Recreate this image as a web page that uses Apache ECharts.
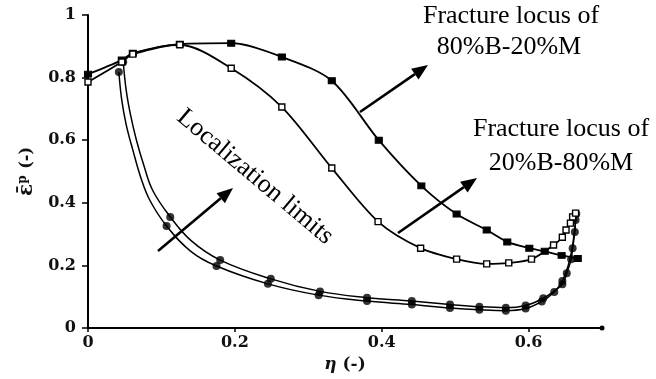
<!DOCTYPE html>
<html>
<head>
<meta charset="utf-8">
<script src="https://cdn.jsdelivr.net/npm/echarts@6/dist/echarts.min.js"></script>
<style>
html,body{margin:0;padding:0;background:#fff;}
#c{width:656px;height:379px;}
</style>
</head>
<body>
<div id="c"></div>
<script>
// ---- data (eta, equivalent plastic strain) ----
const xTicks = [0, 0.2, 0.4, 0.6];
const yTicks = [0, 0.2, 0.4, 0.6, 0.8, 1];

// Fracture locus of 80%B-20%M (filled squares)
const xB80 = [0, 0.046, 0.061, 0.125, 0.195, 0.264, 0.332, 0.396, 0.454, 0.502, 0.543, 0.571, 0.601, 0.622, 0.645, 0.667];
const yB80 = [0.811, 0.856, 0.878, 0.907, 0.910, 0.866, 0.790, 0.600, 0.454, 0.364, 0.313, 0.275, 0.255, 0.245, 0.232, 0.222];

// Fracture locus of 20%B-80%M (hollow squares)
const xB20 = [0, 0.046, 0.061, 0.125, 0.195, 0.264, 0.332, 0.395, 0.453, 0.502, 0.543, 0.573, 0.604, 0.634, 0.646, 0.651, 0.657, 0.660, 0.664];
const yB20 = [0.786, 0.850, 0.875, 0.905, 0.830, 0.706, 0.511, 0.340, 0.255, 0.220, 0.205, 0.208, 0.220, 0.265, 0.290, 0.313, 0.335, 0.355, 0.367];

// Localization limit, outer curve
const xLocA = [0.048, 0.052, 0.058, 0.066, 0.076, 0.088, 0.112, 0.140, 0.180, 0.249, 0.316, 0.380, 0.441, 0.493, 0.533, 0.569, 0.596, 0.620, 0.636, 0.646, 0.652, 0.658, 0.660, 0.663, 0.664, 0.665];
const yLocA = [0.850, 0.760, 0.680, 0.600, 0.520, 0.440, 0.355, 0.280, 0.217, 0.157, 0.117, 0.097, 0.086, 0.075, 0.068, 0.065, 0.072, 0.095, 0.120, 0.140, 0.175, 0.220, 0.255, 0.307, 0.345, 0.365];
const xLocAMark = [0.048, 0.112, 0.180, 0.249, 0.316, 0.380, 0.441, 0.493, 0.533, 0.569, 0.596, 0.620, 0.646, 0.652, 0.658, 0.660, 0.663, 0.664, 0.665];
const yLocAMark = [0.850, 0.355, 0.217, 0.157, 0.117, 0.097, 0.086, 0.075, 0.068, 0.065, 0.072, 0.095, 0.140, 0.175, 0.220, 0.255, 0.307, 0.345, 0.365];

// Localization limit, inner curve
const xLocB = [0.042, 0.046, 0.052, 0.061, 0.072, 0.084, 0.107, 0.140, 0.175, 0.245, 0.314, 0.380, 0.441, 0.493, 0.533, 0.569, 0.596, 0.618, 0.635, 0.646, 0.654, 0.659, 0.662, 0.664, 0.665];
const yLocB = [0.818, 0.728, 0.650, 0.569, 0.480, 0.409, 0.326, 0.245, 0.198, 0.141, 0.105, 0.086, 0.075, 0.064, 0.058, 0.055, 0.062, 0.085, 0.115, 0.150, 0.200, 0.250, 0.300, 0.340, 0.365];
const xLocBMark = [0.042, 0.107, 0.175, 0.245, 0.314, 0.380, 0.441, 0.493, 0.533, 0.569, 0.596, 0.618, 0.635, 0.646];
const yLocBMark = [0.818, 0.326, 0.198, 0.141, 0.105, 0.086, 0.075, 0.064, 0.058, 0.055, 0.062, 0.085, 0.115, 0.150];

const zip = (xs, ys) => xs.map((x, i) => [x, ys[i]]);

const chart = echarts.init(document.getElementById('c'), null, {renderer: 'canvas'});
const labelFont = {fontFamily: 'DejaVu Serif', fontWeight: 'bold', fontSize: 16, color: '#111'};

function arrow(x1, y1, x2, y2) {
  const len = 16, w = 6.5;
  const a = Math.atan2(y2 - y1, x2 - x1);
  const bx = x2 - len * Math.cos(a), by = y2 - len * Math.sin(a);
  return [
    {type: 'line', shape: {x1: x1, y1: y1, x2: bx, y2: by}, style: {stroke: '#000', lineWidth: 2.6}},
    {type: 'polygon', shape: {points: [[x2, y2], [bx + w * Math.sin(a), by - w * Math.cos(a)], [bx - w * Math.sin(a), by + w * Math.cos(a)]]}, style: {fill: '#000'}}
  ];
}
const annFont = '26px "Liberation Serif"';
function txt(s, x, y, rot) {
  return {type: 'text', x: x, y: y, rotation: rot || 0,
    style: {text: s, font: annFont, fill: '#000', align: 'center', verticalAlign: 'middle'}};
}

const option = {
  animation: false,
  backgroundColor: '#fff',
  grid: {left: 88, right: 54, top: 15, bottom: 51},
  xAxis: {
    type: 'value', min: 0, max: 0.7,
    name: '{i|η} (-)', nameLocation: 'middle', nameGap: 27,
    nameTextStyle: {fontFamily: 'DejaVu Serif', fontWeight: 'bold', fontSize: 17, color: '#111',
      rich: {i: {fontFamily: 'DejaVu Serif', fontWeight: 'bold', fontStyle: 'italic', fontSize: 17, color: '#111'}}},
    axisLine: {lineStyle: {color: '#000', width: 2}, symbol: ['none', 'circle'], symbolSize: [5, 5]},
    axisTick: {show: true, customValues: xTicks, length: 4, inside: false, lineStyle: {color: '#000', width: 1.5}},
    axisLabel: Object.assign({customValues: xTicks, margin: 7, formatter: v => String(v)}, labelFont),
    splitLine: {show: false}
  },
  yAxis: {
    type: 'value', min: 0, max: 1, interval: 0.2,
    name: '{e|ε̄}{p|p} (-)', nameLocation: 'middle', nameGap: 51, nameRotate: 90,
    nameTextStyle: {fontFamily: 'DejaVu Serif', fontWeight: 'bold', fontSize: 16, color: '#111',
      rich: {
        e: {fontFamily: 'DejaVu Serif', fontWeight: 'bold', fontSize: 20, color: '#111'},
        p: {fontFamily: 'DejaVu Serif', fontWeight: 'bold', fontSize: 12, color: '#111', verticalAlign: 'top', padding: [0, 1, 0, 0]}
      }},
    axisLine: {lineStyle: {color: '#000', width: 2}},
    axisTick: {show: true, length: 6, inside: false, lineStyle: {color: '#000', width: 1.5}},
    axisLabel: Object.assign({margin: 12, formatter: v => String(v)}, labelFont),
    splitLine: {show: false}
  },
  series: [
    {type: 'line', data: zip(xLocA, yLocA), smooth: 0.4, showSymbol: false,
     lineStyle: {color: '#000', width: 1.5}, z: 2},
    {type: 'line', data: zip(xLocB, yLocB), smooth: 0.4, showSymbol: false,
     lineStyle: {color: '#000', width: 1.5}, z: 2},
    {type: 'scatter', data: zip(xLocAMark, yLocAMark), symbol: 'circle', symbolSize: 8,
     itemStyle: {color: '#000'}, z: 3},
    {type: 'scatter', data: zip(xLocBMark, yLocBMark), symbol: 'circle', symbolSize: 8,
     itemStyle: {color: '#000'}, z: 3},
    {type: 'line', data: zip(xB80, yB80), smooth: 0.3, symbol: 'rect', symbolSize: [7, 6], showAllSymbol: true,
     lineStyle: {color: '#000', width: 1.8}, itemStyle: {color: '#000', borderColor: '#000'}, z: 4},
    {type: 'line', data: zip(xB20, yB20), smooth: 0.3, symbol: 'rect', symbolSize: 6, showAllSymbol: true,
     lineStyle: {color: '#000', width: 1.8}, itemStyle: {color: '#fff', borderColor: '#000', borderWidth: 1.4}, z: 5}
  ],
  graphic: [].concat(
    arrow(360, 112, 428, 65),
    arrow(398, 233, 477, 178),
    arrow(158, 251, 233, 188),
    [
      txt('Fracture locus of', 511, 16),
      txt('80%B-20%M', 509, 47),
      txt('Fracture locus of', 561, 129),
      txt('20%B-80%M', 561, 163),
      txt('Localization limits', 255, 177, -40 * Math.PI / 180)
    ]
  )
};
chart.setOption(option);
</script>
</body>
</html>
